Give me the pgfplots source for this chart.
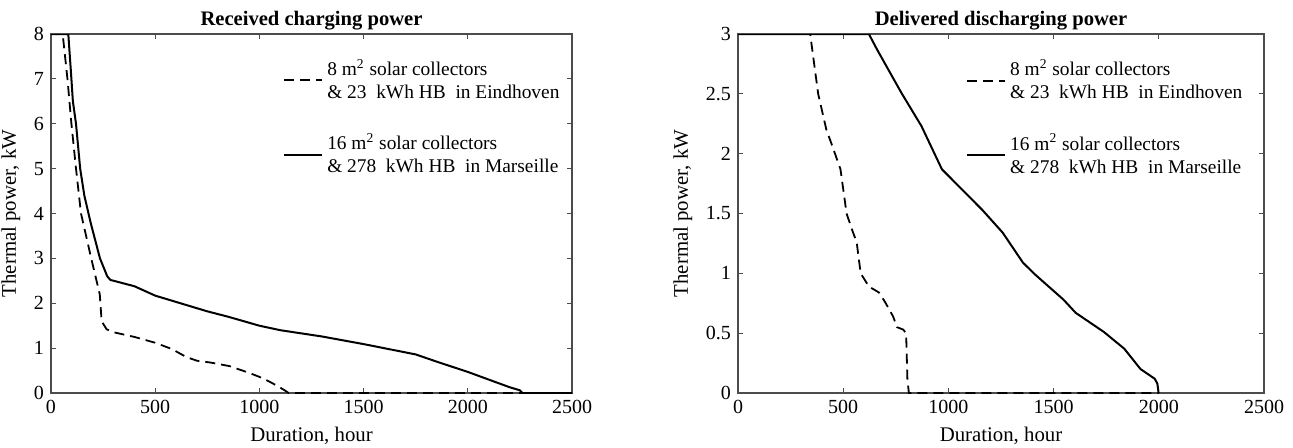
\documentclass[border=0pt]{standalone}
\usepackage{fontspec}
\setmainfont{Liberation Serif}
\usepackage{pgfplots}
\pgfplotsset{compat=1.18}

\pgfplotsset{
  ch/.style={
    scale only axis,
    axis line style={black!70, line width=0.7pt},
    every tick/.style={black!70, line width=0.6pt},
    tick align=inside, major tick length=2.5pt,
    xmin=0, xmax=2500, xtick={0,500,...,2500},
    tick label style={font=\fontsize{10}{11}\selectfont},
    label style={font=\fontsize{10.4}{11}\selectfont},
    title style={font=\bfseries\fontsize{10.3}{11}\selectfont,
                 at={(0.5,1)}, anchor=base, yshift=-1.5pt},
    /pgf/number format/assume math mode=true,
    scaled x ticks=false,
    xticklabel style={/pgf/number format/1000 sep={}},
    xlabel={Duration, hour}, ylabel={Thermal power, kW},
    legend cell align=left,
    legend image code/.code={\draw[##1] (0pt,0pt) -- (19pt,0pt);},
    legend style={draw=none, fill=none, inner sep=0pt, row sep=12pt,
                  anchor=north west, font=\fontsize{9.7}{11.5}\selectfont,
                  cells={align=left}},
  },
  ds/.style={black, line width=0.9pt, dash pattern=on 5pt off 3pt},
  sl/.style={black, line width=1pt},
}

\begin{document}
\begin{tikzpicture}
\path[use as bounding box] (-25.5pt,-27pt) rectangle (621pt,196.5pt);

% left: received charging power
\begin{axis}[ch, at={(0pt,0pt)}, anchor=south west,
  width=260.5pt, height=179.5pt,
  ymin=0, ymax=8, ytick={0,1,...,8},
  title={Received charging power},
  legend style={at={(0.445,0.942)}}]
\addplot[ds] coordinates {
(0,8)(56,8)(79,7)(98,6)(120,5)(144,4)(193,3)(234,2.2)(243,1.6)
(267,1.42)(304,1.35)(400,1.25)(500,1.12)(580,0.98)(650,0.8)(700,0.72)
(764,0.68)(856,0.6)(950,0.45)(1000,0.36)(1050,0.25)(1100,0.12)(1128,0.04)
(1140,0)(2500,0)};
\addlegendentry{8 m\textsuperscript{2} solar collectors\\\& 23~ kWh HB ~in Eindhoven}
\addplot[sl] coordinates {
(0,8)(83,8)(95,7.2)(105,6.5)(120,6)(140,5)(160,4.4)(190,3.8)(235,3)
(270,2.6)(285,2.52)(400,2.38)(500,2.17)(600,2.03)(750,1.82)(850,1.7)
(1000,1.5)(1100,1.4)(1300,1.26)(1500,1.09)(1750,0.86)(1850,0.7)
(2000,0.47)(2100,0.3)(2200,0.13)(2250,0.06)(2262,0)(2500,0)};
\addlegendentry{16 m\textsuperscript{2} solar collectors\\\& 278~ kWh HB ~in Marseille}
\end{axis}

% right: delivered discharging power
\begin{axis}[ch, at={(343.5pt,0pt)}, anchor=south west,
  width=263pt, height=179.5pt,
  ymin=0, ymax=3, ytick={0,0.5,...,3},
  title={Delivered discharging power},
  legend style={at={(0.433,0.941)}}]
\addplot[ds] coordinates {
(0,3)(343,3)(362,2.75)(381,2.5)(420,2.2)(449,2.06)(487,1.87)(516,1.5)
(545,1.35)(564,1.26)(583,1.0)(622,0.89)(670,0.84)(699,0.76)(737,0.64)
(756,0.55)(785,0.53)(799,0.5)(805,0.12)(812,0)(2000,0)};
\addlegendentry{8 m\textsuperscript{2} solar collectors\\\& 23~ kWh HB ~in Eindhoven}
\addplot[sl] coordinates {
(0,3)(622,3)(661,2.87)(776,2.51)(872,2.23)(969,1.87)(1065,1.7)(1161,1.53)
(1258,1.34)(1354,1.09)(1412,0.99)(1547,0.78)(1605,0.67)(1739,0.51)
(1836,0.37)(1913,0.2)(1980,0.12)(1993,0.08)(1999,0)};
\addlegendentry{16 m\textsuperscript{2} solar collectors\\\& 278~ kWh HB ~in Marseille}
\end{axis}
\end{tikzpicture}
\end{document}
